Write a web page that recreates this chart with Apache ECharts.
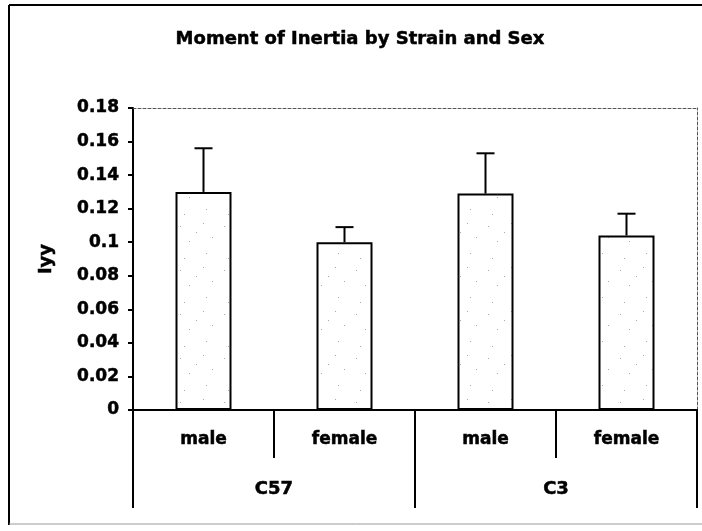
<!DOCTYPE html>
<html>
<head>
<meta charset="utf-8">
<script src="https://cdn.jsdelivr.net/npm/echarts@6/dist/echarts.min.js"></script>
<style>
  html, body { margin: 0; padding: 0; background: #fff; }
  #chart { width: 702px; height: 531px; }
</style>
</head>
<body>
<div id="chart"></div>
<script>
const sexes = ["male", "female", "male", "female"];
const strains = ["C57", "C3"];
const means = [0.13, 0.1, 0.129, 0.104];
const upper = [0.156, 0.109, 0.153, 0.117];
const yTicks = [0, 0.02, 0.04, 0.06, 0.08, 0.1, 0.12, 0.14, 0.16, 0.18];

const FONT = "DejaVu Sans";

// stippled bar fill, fixed dot layout
function stipple() {
  const c = document.createElement("canvas");
  c.width = 44;
  c.height = 44;
  const ctx = c.getContext("2d");
  ctx.fillStyle = "#fff";
  ctx.fillRect(0, 0, 44, 44);
  ctx.fillStyle = "#aaa";
  const dots = [[4, 6], [27, 3], [36, 17], [13, 21], [30, 33], [8, 38], [20, 12]];
  dots.forEach(([x, y]) => ctx.fillRect(x, y, 1, 1));
  return c;
}

const chart = echarts.init(document.getElementById("chart"));

// a thin stroke thickens the glyphs a bit, like the scanned original
const labelStyle = {
  color: "#000",
  fontFamily: FONT,
  fontWeight: "bold",
  fontSize: 17,
  textBorderColor: "#000",
  textBorderWidth: 0.5,
};

chart.setOption({
  backgroundColor: "#fff",
  animation: false,
  title: {
    text: "Moment of Inertia by Strain and Sex",
    left: 355,
    top: 25,
    textAlign: "center",
    textStyle: { ...labelStyle, fontSize: 18 },
  },
  graphic: [
    { type: "line", shape: { x1: 9, y1: 5, x2: 9, y2: 525 }, style: { stroke: "#000", lineWidth: 2 } },
    { type: "line", shape: { x1: 9, y1: 5, x2: 702, y2: 5 }, style: { stroke: "#000", lineWidth: 2 } },
    { type: "line", shape: { x1: 9, y1: 524, x2: 702, y2: 524 }, style: { stroke: "#999", lineWidth: 1 } },
  ],
  grid: { left: 133, right: 5, top: 108, bottom: 121 },
  xAxis: [
    {
      type: "category",
      data: sexes,
      position: "bottom",
      axisLine: { lineStyle: { color: "#000", width: 2 } },
      axisTick: { show: true, length: 48, lineStyle: { color: "#000", width: 2 } },
      axisLabel: { ...labelStyle, margin: 21 },
    },
    {
      type: "category",
      data: strains,
      position: "bottom",
      axisLine: { show: false },
      axisTick: { show: true, length: 98, lineStyle: { color: "#000", width: 2 } },
      axisLabel: { ...labelStyle, fontSize: 18, margin: 70 },
    },
    {
      type: "category",
      data: sexes,
      position: "top",
      axisLine: { lineStyle: { color: "#555", width: 1, type: [3, 2] } },
      axisTick: { show: false },
      axisLabel: { show: false },
    },
  ],
  yAxis: [
    {
      type: "value",
      min: 0,
      max: 0.18,
      interval: 0.02,
      name: "Iyy",
      nameLocation: "middle",
      nameGap: 78,
      nameRotate: 90,
      nameTextStyle: { ...labelStyle, fontSize: 18 },
      axisLine: { show: true, lineStyle: { color: "#000", width: 2 } },
      axisTick: { show: true, length: 5, lineStyle: { color: "#000", width: 2 } },
      axisLabel: {
        ...labelStyle,
        margin: 14,
        formatter: (v) => String(yTicks.find((t) => Math.abs(t - v) < 1e-9) ?? v),
      },
      splitLine: { show: false },
    },
    {
      type: "value",
      min: 0,
      max: 0.18,
      interval: 0.02,
      position: "right",
      axisLine: { show: true, lineStyle: { color: "#555", width: 1, type: [3, 2] } },
      axisTick: { show: false },
      axisLabel: { show: false },
      splitLine: { show: false },
    },
  ],
  series: [
    {
      type: "bar",
      data: means,
      barWidth: 56,
      itemStyle: {
        color: { image: stipple(), repeat: "repeat" },
        borderColor: "#000",
        borderWidth: 2,
      },
    },
    {
      type: "custom",
      data: upper.map((u, i) => [i, means[i], u]),
      renderItem: (params, api) => {
        const base = api.coord([api.value(0), api.value(1)]);
        const top = api.coord([api.value(0), api.value(2)]);
        const style = { stroke: "#000", lineWidth: 2 };
        return {
          type: "group",
          children: [
            { type: "line", shape: { x1: base[0], y1: base[1], x2: top[0], y2: top[1] }, style },
            { type: "line", shape: { x1: top[0] - 9, y1: top[1], x2: top[0] + 9, y2: top[1] }, style },
          ],
        };
      },
      z: 3,
    },
  ],
});
</script>
</body>
</html>
